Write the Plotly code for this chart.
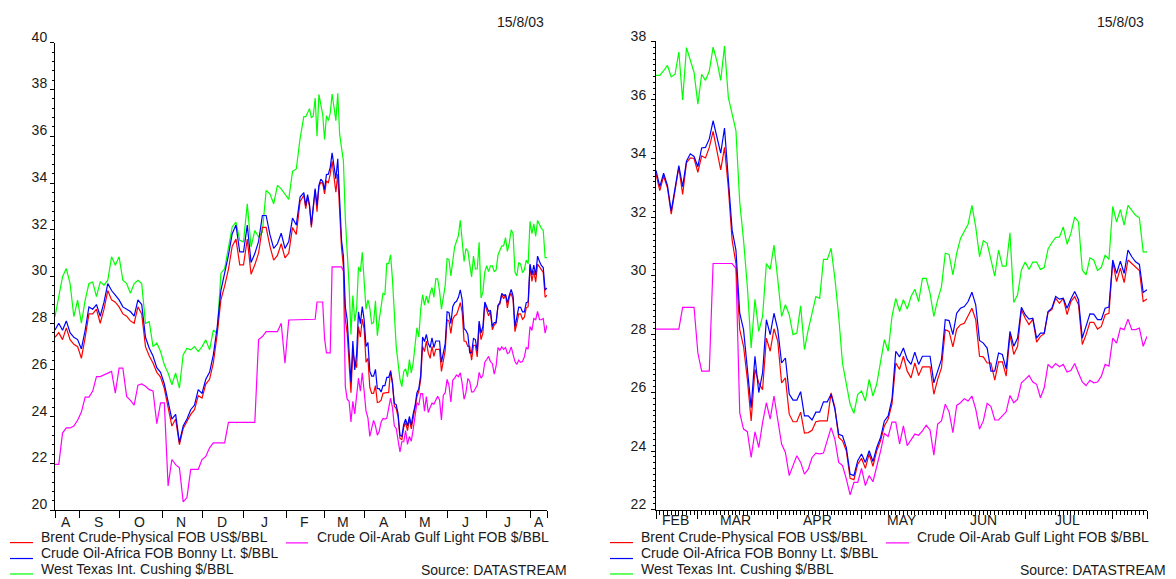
import pandas as pd
import plotly.graph_objects as go

# ---------------- data ----------------
# business-day calendars (older half sampled every 2 business days, recent half daily)
dates_old = pd.bdate_range("2002-08-14", periods=66, freq="2B")
dates_new = pd.bdate_range("2003-02-14", "2003-08-14")

series_names = [
    "Brent Crude-Physical FOB US$/BBL",
    "Crude Oil-Africa FOB Bonny Lt. $/BBL",
    "West Texas Int. Cushing $/BBL",
    "Crude Oil-Arab Gulf Light FOB $/BBL",
]
series_colors = ["#ff0000", "#0000ff", "#00ff00", "#ff00ff"]

brent_old = [27.4, 27.6, 27.3, 27.8, 27.3, 27.1, 27.0, 26.5, 27.4, 28.4,
             28.4, 28.6, 28.0, 28.6, 29.4, 29.0, 28.9, 28.7, 28.4, 28.3,
             28.1, 28.0, 28.7, 28.4, 27.0, 26.6, 26.3, 25.9, 25.7, 25.2,
             24.4, 23.6, 23.9, 22.8, 23.5, 23.8, 24.1, 24.3, 24.9, 24.8,
             25.4, 25.6, 26.3, 27.5, 29.0, 29.6, 30.3, 31.3, 31.6, 30.5,
             30.5, 31.6, 30.1, 30.5, 31.0, 32.1, 32.1, 31.3, 30.7, 30.9,
             31.4, 30.8, 31.0, 32.1, 31.8, 33.2]
bonny_old = [27.71, 28.0, 27.7, 28.1, 27.6, 27.4, 27.3, 26.9, 27.7, 28.7,
             28.6, 28.8, 28.3, 28.9, 29.7, 29.4, 29.2, 29.0, 28.7, 28.6,
             28.5, 28.3, 29.0, 28.8, 27.4, 26.93, 26.6, 26.1, 25.9, 25.4,
             24.6, 23.9, 24.1, 22.9, 23.6, 23.9, 24.3, 24.5, 25.16, 25.0,
             25.6, 25.9, 26.65, 27.8, 29.4, 30.1, 30.9, 31.83, 32.2, 31.05,
             31.05, 32.2, 30.6, 30.98, 31.5, 32.61, 32.61, 31.8, 31.2, 31.4,
             31.85, 31.2, 31.5, 32.5, 32.2, 33.4]
wti_old = [28.28, 29.2, 29.99, 30.34, 29.7, 28.28, 28.99, 28.0, 28.99, 29.7,
           29.76, 29.14, 29.77, 29.63, 29.84, 30.84, 30.48, 30.84, 29.84, 29.7,
           29.28, 29.7, 29.84, 29.7, 28.0, 28.07, 27.0, 27.15, 26.79, 26.22,
           25.87, 25.37, 25.87, 25.23, 26.65, 26.93, 26.86, 27.0, 26.79, 27.0,
           27.29, 26.86, 27.71, 27.57, 30.13, 30.34, 31.19, 32.12, 32.33, 31.55,
           31.48, 33.11, 31.26, 31.97, 31.69, 31.9, 33.68, 33.54, 33.11, 33.9,
           33.75, 33.5, 33.3, 34.5, 34.6, 35.9]
arab_old = [21.96, 21.96, 23.3, 23.52, 23.52, 23.6, 23.85, 24.2, 24.84, 24.84,
            25.1, 25.72, 25.72, 25.8, 25.87, 25.94, 25.01, 26.08, 26.08, 24.87,
            24.7, 24.5, 25.35, 25.4, 25.3, 25.16, 25.1, 23.7, 24.59, 24.59,
            21.04, 22.17, 21.95, 21.82, 20.36, 20.54, 21.75, 21.75, 21.75, 22.17,
            22.3, 22.67, 22.88, 22.88, 22.88, 22.88, 23.76, 23.76, 23.76, 23.76,
            23.76, 23.76, 23.76, 23.76, 27.3, 27.43, 27.64, 27.64, 27.64, 27.64,
            28.0, 26.29, 28.14, 28.14, 28.14, 28.14]

brent_new = [33.47, 32.9, 33.4, 33.0, 32.1, 32.9, 33.7, 32.77, 33.85, 34.02,
             34.0, 33.53, 34.09, 34.02, 34.38, 34.93, 34.27, 33.61, 34.38, 33.0,
             31.21, 30.41, 28.15, 27.58, 26.45, 25.03, 26.79, 26.33, 26.1, 27.86,
             27.41, 28.18, 27.75, 26.33, 26.5, 25.26, 25.0, 25.0, 25.33, 24.61,
             24.63, 24.71, 25.0, 25.03, 25.03, 25.03, 25.99, 25.48, 24.46, 24.35,
             24.01, 23.07, 23.02, 23.55, 23.75, 23.41, 23.9, 23.48, 24.01, 24.35,
             24.86, 25.09, 25.6,
             27.01, 26.79, 27.24, 26.73, 26.5, 27.01, 26.58, 26.88, 26.88, 26.88,
             25.94, 26.45, 26.84, 28.15, 28.09, 27.56, 28.17, 28.32, 28.37, 28.6,
             28.88, 28.49, 27.24, 27.22, 27.01, 27.01, 26.42, 27.05, 27.05, 26.56,
             27.98, 27.3, 27.58, 28.83, 28.54, 28.32, 28.51, 27.72, 27.92, 28.01,
             28.74, 28.83, 29.22, 29.05, 29.22, 28.66, 29.11, 29.28, 29.0, 27.64,
             27.98, 28.4, 28.4, 28.17, 28.26, 28.66, 28.71, 30.47, 29.79, 30.25,
             29.76, 30.53, 30.41, 30.3, 30.17, 29.11, 29.2]
bonny_new = [33.59, 33.04, 33.5, 33.08, 32.2, 33.0, 33.76, 33.04, 33.91, 34.16,
             34.07, 33.72, 34.36, 34.38, 34.67, 35.29, 34.78, 34.18, 35.04, 33.36,
             31.55, 30.87, 28.71, 28.15, 26.79, 25.48, 27.24, 26.0, 26.67, 28.49,
             27.98, 28.71, 28.15, 27.01, 27.18, 25.95, 25.74, 25.74, 26.03, 25.2,
             25.2, 25.06, 25.33, 25.33, 25.68, 25.68, 25.94, 25.43, 24.57, 24.52,
             24.12, 23.21, 23.16, 23.67, 23.9, 23.61, 24.01, 23.64, 24.12, 24.46,
             25.03, 25.2, 25.77,
             27.41, 27.22, 27.52, 27.13, 26.96, 27.38, 26.96, 27.24, 27.24, 27.24,
             26.33, 26.73, 27.13, 28.49, 28.46, 27.98, 28.71, 28.88, 28.94, 29.11,
             29.43, 29.0, 27.78, 27.69, 27.52, 26.73, 26.73, 27.35, 27.3, 26.81,
             28.09, 27.58, 27.86, 28.91, 28.66, 28.51, 28.54, 27.86, 28.03, 28.03,
             28.77, 28.88, 29.28, 29.19, 29.22, 28.88, 29.2, 29.45, 29.17, 27.86,
             28.26, 28.69, 28.68, 28.49, 28.49, 28.88, 28.92, 30.53, 30.07, 30.49,
             30.07, 30.87, 30.64, 30.47, 30.38, 29.42, 29.51]
wti_new = [36.84, 36.84, 37.0, 37.18, 36.79, 36.88, 37.64, 36.0, 37.79, 37.39,
           36.94, 35.86, 36.88, 36.67, 36.99, 37.81, 37.33, 36.67, 37.84, 36.09,
           35.5, 34.95, 32.5, 31.21, 29.62, 27.52, 29.19, 28.09, 28.6, 30.41,
           30.21, 31.04, 29.85, 28.6, 29.0, 28.66, 27.98, 28.03, 28.96, 27.47,
           28.15, 28.71, 29.28, 29.22, 30.55, 30.55, 30.93, 29.9, 28.6, 27.0,
           26.3, 25.6, 25.29, 25.94, 26.05, 25.71, 26.45, 25.88,
           26.3, 27.01, 27.81, 27.41, 28.6, 29.22, 28.77, 29.17, 28.85, 29.28,
           29.53, 29.11, 29.9, 29.9, 29.39, 28.6, 29.17, 29.62, 30.76, 30.72,
           30.02, 30.76, 31.27, 31.51, 31.75, 32.4, 31.66, 30.64, 31.19, 31.1,
           30.53, 29.98, 30.87, 30.32, 30.32, 31.46, 29.08, 29.34, 30.19, 30.46,
           30.21, 30.46, 30.46, 30.21, 30.27, 30.91, 31.12, 31.3, 31.32, 31.66,
           31.07, 31.44, 32.0, 31.83, 30.19, 30.02, 30.6, 30.53, 30.17, 30.28,
           30.7, 30.55, 32.36, 31.83, 32.25, 31.72, 32.4, 32.23, 32.06, 31.97,
           30.81, 30.81]
arab_new = [28.17, 28.17, 28.17, 28.17, 28.17, 28.17, 28.17, 28.91, 28.91, 28.91,
            28.91, 27.35, 26.73, 26.73, 26.73, 30.41, 30.41, 30.41, 30.41, 30.41,
            30.41, 30.24,
            25.3, 24.75, 24.66, 23.78, 24.66, 24.12, 24.97, 25.65, 25.09, 25.88,
            25.09, 24.24, 23.95, 23.16, 23.5, 23.84, 23.61, 23.21, 23.38, 23.78,
            23.93, 23.9, 23.93, 24.35, 24.8, 24.4, 23.61, 23.5, 23.05, 22.5,
            22.93, 22.93, 23.41, 22.82, 23.16, 22.95,
            23.45, 24.0, 24.6, 24.5, 24.99, 24.99, 24.24, 24.86, 24.18, 24.4,
            24.58, 24.54, 24.69, 24.88, 24.72, 23.86, 24.92, 25.03, 25.6, 25.34,
            24.63, 25.56, 25.65, 25.79, 25.71, 25.88, 25.43, 24.75, 25.03, 25.63,
            25.52, 25.06, 25.06, 25.2, 25.34, 25.9, 25.65, 25.77, 26.33, 26.45,
            26.58, 26.36, 26.28, 25.82, 26.16, 26.96, 26.84, 26.99, 26.88, 26.96,
            26.7, 26.75, 26.99, 26.67, 26.36, 26.24, 26.42, 26.33, 26.36, 26.56,
            26.96, 26.9, 27.86, 27.69, 28.2, 28.15, 28.51, 28.15, 28.15, 28.2,
            27.58, 27.92]

left_month_labels = ["A", "S", "O", "N", "D", "J", "F", "M", "A", "M", "J", "J", "A"]
right_month_labels = ["FEB", "MAR", "APR", "MAY", "JUN", "JUL", ""]
left_yticks = list(range(20, 41, 2))
right_yticks = list(range(22, 39, 2))
chart_date = "15/8/03"
source_text = "Source: DATASTREAM"

# ---------------- figure ----------------
W, H = 1176, 579
# vertical placement calibrated against the photographed page
Y0, YS = 9.4, 0.9747
FONT = "Liberation Sans, Arial, Helvetica, sans-serif"
TXT = "#1a1a1a"


def px(x):
    return x / W


def py(y):
    return 1 - ((y - Y0) / YS) / H


old_vals = [brent_old, bonny_old, wti_old, arab_old]
new_vals = [brent_new, bonny_new, wti_new, arab_new]
left_dates = list(dates_old) + list(dates_new)

fig = go.Figure()
for k in [3, 2, 0, 1]:
    fig.add_trace(go.Scatter(x=left_dates, y=old_vals[k] + new_vals[k], mode="lines",
                             line=dict(color=series_colors[k], width=1.2),
                             name=series_names[k], showlegend=False,
                             xaxis="x", yaxis="y"))
    fig.add_trace(go.Scatter(x=list(dates_new), y=new_vals[k], mode="lines",
                             line=dict(color=series_colors[k], width=1.2),
                             name=series_names[k], showlegend=False,
                             xaxis="x2", yaxis="y2"))


def month_info(first, last):
    cal = pd.bdate_range(first, last)
    s = pd.Series(cal, index=cal)
    groups = [g for _, g in s.groupby([cal.year, cal.month])]
    starts = [g.iloc[0] for g in groups]
    mids = []
    for g in groups:
        n = len(g)
        m = g.iloc[(n - 1) // 2]
        if n % 2 == 0:
            m = m + pd.Timedelta(hours=12)
        mids.append(m)
    return starts, mids


starts_l, mids_l = month_info(left_dates[0], left_dates[-1])
starts_r, mids_r = month_info(dates_new[0], dates_new[-1])

annotations = []
for m, lab in zip(mids_l, left_month_labels):
    annotations.append(dict(x=m, y=py(520), xref="x", yref="paper", text=lab,
                            showarrow=False, xanchor="center", yanchor="middle",
                            font=dict(size=14, color=TXT, family=FONT)))
for m, lab in zip(mids_r, right_month_labels):
    if lab:
        annotations.append(dict(x=m, y=py(518), xref="x2", yref="paper", text=lab,
                                showarrow=False, xanchor="center", yanchor="middle",
                                font=dict(size=14, color=TXT, family=FONT)))

for xr, yc in [(546, 17.5), (1146, 17)]:
    annotations.append(dict(x=px(xr), y=py(yc), xref="paper", yref="paper", text=chart_date,
                            showarrow=False, xanchor="right", yanchor="middle",
                            font=dict(size=14, color=TXT, family=FONT)))
for xr in [569, 1168]:
    annotations.append(dict(x=px(xr), y=py(567.5), xref="paper", yref="paper", text=source_text,
                            showarrow=False, xanchor="right", yanchor="middle",
                            font=dict(size=14, color=TXT, family=FONT)))

shapes = []
legend_rows = [(0, 535), (1, 551), (2, 566.5)]
for x0, x1, xt, mx0, mx1, mxt in [(10, 33, 39, 286, 308, 315), (610, 633, 639, 886, 909, 915)]:
    for k, yc in legend_rows:
        shapes.append(dict(type="line", xref="paper", yref="paper", x0=px(x0), x1=px(x1),
                           y0=py(yc + 5.2), y1=py(yc + 5.2),
                           line=dict(color=series_colors[k], width=1.2)))
        annotations.append(dict(x=px(xt), y=py(yc), xref="paper", yref="paper", text=series_names[k],
                                showarrow=False, xanchor="left", yanchor="middle",
                                font=dict(size=14, color=TXT, family=FONT)))
    shapes.append(dict(type="line", xref="paper", yref="paper", x0=px(mx0), x1=px(mx1),
                       y0=py(540.5), y1=py(540.5), line=dict(color=series_colors[3], width=1.2)))
    annotations.append(dict(x=px(mxt), y=py(535), xref="paper", yref="paper", text=series_names[3],
                            showarrow=False, xanchor="left", yanchor="middle",
                            font=dict(size=14, color=TXT, family=FONT)))

common_y = dict(showline=True, linecolor="black", linewidth=1, ticks="outside", ticklen=4,
                tickcolor="black", tickwidth=1, showgrid=False, zeroline=False,
                tickfont=dict(size=14, color=TXT, family=FONT), fixedrange=True,
                tickmode="array")
common_x = dict(type="date", showline=True, linecolor="black", linewidth=1, ticks="outside",
                tickcolor="black", tickwidth=1, showgrid=False, zeroline=False,
                showticklabels=False, rangebreaks=[dict(bounds=["sat", "mon"])],
                tickmode="array", fixedrange=True)

fig.update_layout(
    width=W, height=H,
    margin=dict(l=0, r=0, t=0, b=0),
    paper_bgcolor="white", plot_bgcolor="white",
    showlegend=False,
    xaxis=dict(common_x, domain=[px(55), px(547)], anchor="y",
               range=[left_dates[0], left_dates[-1]],
               tickvals=starts_l + [left_dates[-1]], ticklen=7),
    yaxis=dict(common_y, domain=[py(507.7), py(38.3)], anchor="x", range=[20, 40],
               tickvals=left_yticks, ticklabelshift=-6,
               minor=dict(dtick=0.4, tick0=20, ticks="outside", ticklen=2, tickcolor="black")),
    xaxis2=dict(common_x, domain=[px(656), px(1147)], anchor="y2",
                range=[dates_new[0], dates_new[-1]],
                tickvals=starts_r + [dates_new[-1]], ticklen=8,
                minor=dict(tickmode="array", tickvals=list(dates_new), ticks="outside",
                           ticklen=4, tickcolor="black")),
    yaxis2=dict(common_y, domain=[py(507), py(37)], anchor="x2", range=[22, 38],
                tickvals=right_yticks, ticklabelshift=-5, ticklabelstandoff=2,
                minor=dict(dtick=0.2, tick0=22, ticks="outside", ticklen=2, tickcolor="black")),
    annotations=annotations,
    shapes=shapes,
    font=dict(family=FONT, color=TXT),
)

fig.write_html("out.html", config={"displayModeBar": False},
               post_script="document.body.style.margin='0px';document.body.style.overflow='hidden';")
